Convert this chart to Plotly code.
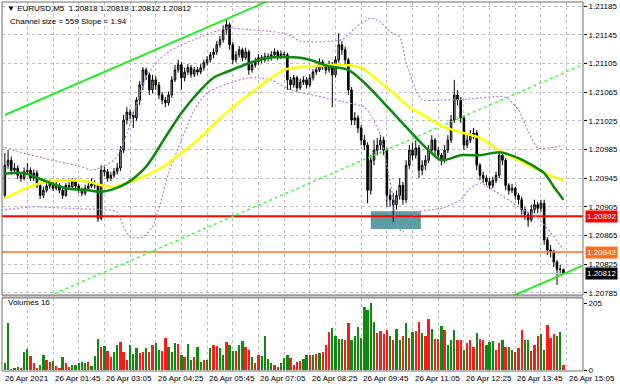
import plotly.graph_objects as go

# ---------------- data (EURUSD M5, 26 Apr 2021, bars 00:30 .. 15:00) ----------------
bar_index = list(range(175))

open_ = [1.20921, 1.20963, 1.20970, 1.20956, 1.20959, 1.20949, 1.20945, 1.20954, 1.20956, 1.20945,
 1.20952, 1.20935, 1.20921, 1.20928, 1.20934, 1.20938, 1.20931, 1.20935, 1.20928, 1.20921,
 1.20935, 1.20933, 1.20940, 1.20934, 1.20928, 1.20924, 1.20931, 1.20934, 1.20937, 1.20935,
 1.20889, 1.20956, 1.20954, 1.20945, 1.20949, 1.20954, 1.20959, 1.20984, 1.21026, 1.21037,
 1.21033, 1.21029, 1.21054, 1.21075, 1.21096, 1.21089, 1.21068, 1.21082, 1.21075, 1.21061,
 1.21054, 1.21050, 1.21061, 1.21082, 1.21096, 1.21103, 1.21085, 1.21093, 1.21099, 1.21090,
 1.21096, 1.21093, 1.21099, 1.21106, 1.21110, 1.21117, 1.21121, 1.21131, 1.21138, 1.21152,
 1.21159, 1.21131, 1.21110, 1.21117, 1.21124, 1.21113, 1.21121, 1.21096, 1.21103, 1.21107,
 1.21113, 1.21110, 1.21115, 1.21113, 1.21117, 1.21121, 1.21114, 1.21118, 1.21117, 1.21082,
 1.21075, 1.21085, 1.21071, 1.21079, 1.21082, 1.21075, 1.21085, 1.21093, 1.21096, 1.21107,
 1.21101, 1.21096, 1.21104, 1.21089, 1.21110, 1.21131, 1.21124, 1.21110, 1.21068, 1.21026,
 1.21029, 1.21015, 1.20998, 1.20991, 1.20928, 1.20970, 1.20984, 1.20991, 1.20998, 1.20984,
 1.20921, 1.20915, 1.20908, 1.20921, 1.20935, 1.20915, 1.20963, 1.20984, 1.20977, 1.20987,
 1.20956, 1.20963, 1.20970, 1.20984, 1.20998, 1.20984, 1.20977, 1.20970, 1.20984, 1.20998,
 1.21026, 1.21061, 1.21054, 1.21029, 1.20991, 1.20998, 1.21005, 1.21008, 1.20963, 1.20949,
 1.20945, 1.20940, 1.20935, 1.20942, 1.20949, 1.20977, 1.20970, 1.20935, 1.20928, 1.20931,
 1.20921, 1.20915, 1.20901, 1.20894, 1.20887, 1.20901, 1.20908, 1.20903, 1.20910, 1.20859,
 1.20845, 1.20842, 1.20828, 1.20818, 1.20818]

high_ = [1.20980, 1.20984, 1.20975, 1.20966, 1.20963, 1.20953, 1.20960, 1.20966, 1.20960, 1.20957,
 1.20956, 1.20938, 1.20933, 1.20938, 1.20943, 1.20941, 1.20940, 1.20938, 1.20931, 1.20938,
 1.20940, 1.20945, 1.20943, 1.20937, 1.20932, 1.20936, 1.20940, 1.20945, 1.20942, 1.20938,
 1.20963, 1.20961, 1.20958, 1.20954, 1.20959, 1.20966, 1.20990, 1.21033, 1.21044, 1.21041,
 1.21038, 1.21058, 1.21080, 1.21100, 1.21099, 1.21092, 1.21089, 1.21087, 1.21079, 1.21065,
 1.21058, 1.21066, 1.21087, 1.21103, 1.21110, 1.21107, 1.21099, 1.21104, 1.21103, 1.21100,
 1.21100, 1.21104, 1.21110, 1.21115, 1.21121, 1.21126, 1.21136, 1.21143, 1.21158, 1.21166,
 1.21162, 1.21135, 1.21122, 1.21129, 1.21127, 1.21127, 1.21124, 1.21108, 1.21113, 1.21118,
 1.21117, 1.21120, 1.21119, 1.21122, 1.21126, 1.21124, 1.21123, 1.21121, 1.21120, 1.21086,
 1.21089, 1.21088, 1.21084, 1.21087, 1.21086, 1.21090, 1.21097, 1.21101, 1.21112, 1.21110,
 1.21104, 1.21109, 1.21107, 1.21115, 1.21147, 1.21136, 1.21128, 1.21113, 1.21072, 1.21037,
 1.21033, 1.21019, 1.21005, 1.20995, 1.20977, 1.20998, 1.21001, 1.21005, 1.21003, 1.20987,
 1.20930, 1.20924, 1.20928, 1.20945, 1.20940, 1.20970, 1.20991, 1.20994, 1.20998, 1.20991,
 1.20970, 1.20977, 1.20991, 1.21005, 1.21001, 1.20988, 1.20980, 1.20991, 1.21005, 1.21033,
 1.21082, 1.21068, 1.21058, 1.21033, 1.21005, 1.21012, 1.21015, 1.21012, 1.20966, 1.20954,
 1.20949, 1.20945, 1.20947, 1.20954, 1.20984, 1.20980, 1.20973, 1.20938, 1.20937, 1.20933,
 1.20924, 1.20919, 1.20905, 1.20898, 1.20908, 1.20915, 1.20912, 1.20915, 1.20915, 1.20863,
 1.20852, 1.20845, 1.20831, 1.20824, 1.20818]

low_ = [1.20917, 1.20958, 1.20950, 1.20951, 1.20944, 1.20940, 1.20942, 1.20950, 1.20941, 1.20941,
 1.20931, 1.20916, 1.20917, 1.20925, 1.20930, 1.20927, 1.20928, 1.20924, 1.20916, 1.20919,
 1.20929, 1.20930, 1.20930, 1.20924, 1.20920, 1.20921, 1.20928, 1.20931, 1.20930, 1.20884,
 1.20886, 1.20948, 1.20940, 1.20941, 1.20945, 1.20950, 1.20955, 1.20980, 1.21020, 1.21027,
 1.21015, 1.21025, 1.21047, 1.21068, 1.21082, 1.21061, 1.21063, 1.21068, 1.21055, 1.21048,
 1.21044, 1.21046, 1.21057, 1.21079, 1.21092, 1.21068, 1.21080, 1.21089, 1.21085, 1.21086,
 1.21088, 1.21090, 1.21095, 1.21102, 1.21106, 1.21112, 1.21117, 1.21127, 1.21134, 1.21145,
 1.21124, 1.21104, 1.21106, 1.21113, 1.21108, 1.21110, 1.21089, 1.21092, 1.21099, 1.21103,
 1.21105, 1.21106, 1.21108, 1.21109, 1.21113, 1.21110, 1.21111, 1.21112, 1.21068, 1.21068,
 1.21071, 1.21066, 1.21068, 1.21075, 1.21070, 1.21072, 1.21081, 1.21089, 1.21093, 1.21096,
 1.21090, 1.21092, 1.21044, 1.21085, 1.21106, 1.21117, 1.21103, 1.21061, 1.21019, 1.21019,
 1.21008, 1.20991, 1.20984, 1.20910, 1.20922, 1.20963, 1.20977, 1.20984, 1.20977, 1.20905,
 1.20905, 1.20884, 1.20901, 1.20915, 1.20908, 1.20910, 1.20958, 1.20970, 1.20972, 1.20945,
 1.20949, 1.20956, 1.20966, 1.20980, 1.20977, 1.20970, 1.20963, 1.20966, 1.20980, 1.20994,
 1.21022, 1.21047, 1.21022, 1.20984, 1.20987, 1.20994, 1.21000, 1.20956, 1.20942, 1.20938,
 1.20935, 1.20930, 1.20931, 1.20938, 1.20945, 1.20963, 1.20928, 1.20922, 1.20924, 1.20915,
 1.20908, 1.20894, 1.20887, 1.20877, 1.20884, 1.20896, 1.20896, 1.20898, 1.20852, 1.20838,
 1.20835, 1.20821, 1.20796, 1.20810, 1.20812]

close_ = [1.20963, 1.20970, 1.20956, 1.20959, 1.20949, 1.20945, 1.20954, 1.20956, 1.20945, 1.20952,
 1.20935, 1.20921, 1.20928, 1.20934, 1.20938, 1.20931, 1.20935, 1.20928, 1.20921, 1.20935,
 1.20933, 1.20940, 1.20934, 1.20928, 1.20924, 1.20931, 1.20934, 1.20937, 1.20935, 1.20889,
 1.20956, 1.20954, 1.20945, 1.20949, 1.20954, 1.20959, 1.20984, 1.21026, 1.21037, 1.21033,
 1.21029, 1.21054, 1.21075, 1.21096, 1.21089, 1.21068, 1.21082, 1.21075, 1.21061, 1.21054,
 1.21050, 1.21061, 1.21082, 1.21096, 1.21103, 1.21085, 1.21093, 1.21099, 1.21090, 1.21096,
 1.21093, 1.21099, 1.21106, 1.21110, 1.21117, 1.21121, 1.21131, 1.21138, 1.21152, 1.21159,
 1.21131, 1.21110, 1.21117, 1.21124, 1.21113, 1.21121, 1.21096, 1.21103, 1.21107, 1.21113,
 1.21110, 1.21115, 1.21113, 1.21117, 1.21121, 1.21114, 1.21118, 1.21117, 1.21082, 1.21075,
 1.21085, 1.21071, 1.21079, 1.21082, 1.21075, 1.21085, 1.21093, 1.21096, 1.21107, 1.21101,
 1.21096, 1.21104, 1.21089, 1.21110, 1.21131, 1.21124, 1.21110, 1.21068, 1.21026, 1.21029,
 1.21015, 1.20998, 1.20991, 1.20928, 1.20970, 1.20984, 1.20991, 1.20998, 1.20984, 1.20921,
 1.20915, 1.20908, 1.20921, 1.20935, 1.20915, 1.20963, 1.20984, 1.20977, 1.20987, 1.20956,
 1.20963, 1.20970, 1.20984, 1.20998, 1.20984, 1.20977, 1.20970, 1.20984, 1.20998, 1.21026,
 1.21061, 1.21054, 1.21029, 1.20991, 1.20998, 1.21005, 1.21008, 1.20963, 1.20949, 1.20945,
 1.20940, 1.20935, 1.20942, 1.20949, 1.20977, 1.20970, 1.20935, 1.20928, 1.20931, 1.20921,
 1.20915, 1.20901, 1.20894, 1.20887, 1.20901, 1.20908, 1.20903, 1.20910, 1.20859, 1.20845,
 1.20842, 1.20828, 1.20818, 1.20818, 1.20812]

volume = [23, 145, 2, 7, 8, 6, 54, 64, 43, 21, 5, 16, 46, 31, 26, 29, 12, 5, 41, 23,
 10, 14, 16, 23, 25, 21, 26, 12, 43, 95, 70, 75, 60, 41, 57, 78, 86, 57, 31, 78,
 50, 67, 52, 57, 67, 54, 78, 83, 62, 60, 98, 70, 57, 83, 81, 47, 41, 81, 31, 41,
 70, 26, 31, 31, 67, 78, 75, 67, 47, 85, 78, 60, 60, 78, 88, 70, 62, 41, 23, 47,
 43, 106, 33, 23, 16, 10, 23, 36, 47, 36, 16, 26, 29, 33, 47, 47, 47, 50, 52, 54,
 78, 117, 129, 106, 95, 95, 93, 145, 93, 104, 132, 98, 195, 184, 205, 147, 114, 119, 112, 124,
 104, 91, 126, 93, 104, 145, 98, 116, 119, 147, 114, 104, 157, 126, 95, 95, 135, 122, 78, 91,
 122, 93, 93, 62, 83, 93, 72, 114, 95, 93, 78, 85, 88, 62, 83, 91, 72, 70, 62, 57,
 67, 124, 93, 91, 60, 78, 106, 111, 62, 140, 100, 111, 104, 116, 16]
volume_up = ("gg" "rggr" "ggrrr" "ggrr" "grr" "grr" "gggg" "grgg" "grgrr" "ggr" "rr" "gggrrgr" "rggrrgggrgrgg" "rgg" "rgg" "rr"
             "ggrggr" "ggrr" "grrggggrrgggrrrrggrgrgrrr" "ggggrr" "ggggggggrrrrgrggrgrgrrgrrgrrgrggg" "rrgrrrgrrgggrrgrggrrrgg"
             "rrrggrrrggrrrr" "gg")

x_tick_idx = [15, 31, 47, 63, 79, 95, 111, 127, 143, 159, 175]
x_tick_text = ["26 Apr 01:45", "26 Apr 03:05", "26 Apr 04:25", "26 Apr 05:45", "26 Apr 07:05",
               "26 Apr 08:25", "26 Apr 09:45", "26 Apr 11:05", "26 Apr 12:25", "26 Apr 13:45",
               "26 Apr 15:05"]
first_label = "26 Apr 2021"
price_ticks = [1.20785, 1.20825, 1.20865, 1.20905, 1.20945, 1.20985, 1.21025, 1.21065,
               1.21105, 1.21145, 1.21185]

ma_green_idx = [0, 6, 12, 19, 26, 30, 34, 38, 44, 50, 55, 61, 65, 69, 73, 77, 82, 87, 92, 95,
                101, 107, 112, 118, 123, 128, 132, 136, 142, 148, 154, 160, 165, 168, 171, 174]
ma_green = [1.20951, 1.20952, 1.20942, 1.20931, 1.20928, 1.20926, 1.20930, 1.20938, 1.20961, 1.21002,
            1.21036, 1.21068, 1.21085, 1.21093, 1.21100, 1.21107, 1.21113, 1.21114, 1.21113, 1.21110,
            1.21101, 1.21096, 1.21078, 1.21050, 1.21026, 1.21002, 1.20984, 1.20970, 1.20977, 1.20977,
            1.20981, 1.20973, 1.20961, 1.20952, 1.20933, 1.20915]

ma_yellow_idx = [0, 5, 11, 19, 26, 30, 34, 38, 44, 50, 57, 61, 65, 71, 77, 82, 87, 92, 95, 105,
                 111, 116, 121, 126, 132, 136, 142, 148, 154, 160, 165, 170, 174]
ma_yellow = [1.20917, 1.20928, 1.20938, 1.20942, 1.20940, 1.20935, 1.20933, 1.20938, 1.20949, 1.20963,
             1.20987, 1.21002, 1.21020, 1.21044, 1.21065, 1.21082, 1.21096, 1.21100, 1.21101, 1.21103,
             1.21099, 1.21082, 1.21064, 1.21044, 1.21029, 1.21018, 1.21009, 1.21001, 1.20984, 1.20970,
             1.20959, 1.20949, 1.20942]

band_up_idx = [0, 5, 12, 19, 23, 27, 31, 34, 36, 40, 44, 48, 52, 61, 69, 76, 82, 88, 92, 105,
               109, 114, 117, 120, 123, 125, 128, 130, 136, 144, 156, 160, 163, 166, 171, 174]
band_up = [1.20988, 1.20981, 1.20973, 1.20966, 1.20962, 1.20956, 1.20962, 1.20970, 1.20984, 1.21033,
           1.21086, 1.21110, 1.21124, 1.21142, 1.21154, 1.21152, 1.21150, 1.21146, 1.21136, 1.21138,
           1.21154, 1.21168, 1.21163, 1.21149, 1.21142, 1.21106, 1.21068, 1.21054, 1.21054, 1.21055,
           1.21058, 1.21040, 1.21011, 1.20987, 1.20988, 1.20991]

band_lo_idx = [0, 9, 19, 30, 35, 37, 39, 43, 46, 49, 51, 55, 59, 63, 69, 76, 83, 89, 99, 107,
               112, 114, 117, 119, 121, 122, 124, 126, 129, 136, 142, 145, 148, 153, 160, 166, 170, 174]
band_lo = [1.20901, 1.20905, 1.20903, 1.20901, 1.20898, 1.20877, 1.20863, 1.20863, 1.20877, 1.20919,
           1.20952, 1.20998, 1.21040, 1.21064, 1.21076, 1.21085, 1.21082, 1.21068, 1.21058, 1.21050,
           1.21044, 1.21033, 1.21005, 1.20963, 1.20915, 1.20880, 1.20870, 1.20887, 1.20898, 1.20903,
           1.20915, 1.20931, 1.20938, 1.20926, 1.20905, 1.20889, 1.20869, 1.20845]

channel_idx = [0, 180]
channel_upper = [1.21033, 1.21382]
channel_mid = [1.20754, 1.21103]
channel_lower = [1.20474, 1.20823]

level_red = 1.20892
level_orange = 1.20842
level_bid = 1.20812
zone_idx = [114, 129.6]
zone_price = [1.20874, 1.20899]

# ---------------- figure ----------------
FONT = "Liberation Sans, Arial, sans-serif"
GRID = "#C0C0C0"
X_RANGE = [-0.89, 180.1]
MAIN_DOM = [0.206, 1.0]
VOL_DOM = [0.0, 0.198]

fig = go.Figure()

line_span = [-2, 182]
fig.add_trace(go.Scatter(x=line_span, y=[level_bid, level_bid], mode="lines",
                         line=dict(color="#C0C0C0", width=1), xaxis="x2", yaxis="y"))
fig.add_trace(go.Scatter(x=line_span, y=[level_orange, level_orange], mode="lines",
                         line=dict(color="#FF6E1E", width=1.5), xaxis="x2", yaxis="y"))
fig.add_trace(go.Scatter(x=line_span, y=[level_red, level_red], mode="lines",
                         line=dict(color="#FF0000", width=2), xaxis="x2", yaxis="y"))

for arr_x, arr_y in [(band_up_idx, band_up), (band_lo_idx, band_lo)]:
    fig.add_trace(go.Scatter(x=arr_x, y=arr_y, mode="lines",
                             line=dict(color="#B47CE6", width=1.2, dash="2px,2px", shape="spline", smoothing=0.6),
                             xaxis="x2", yaxis="y"))

fig.add_trace(go.Scatter(x=channel_idx, y=channel_mid, mode="lines",
                         line=dict(color="#33FF33", width=1.5, dash="3px,3px"), xaxis="x2", yaxis="y"))
fig.add_trace(go.Scatter(x=channel_idx, y=channel_upper, mode="lines",
                         line=dict(color="#22EE22", width=2), xaxis="x2", yaxis="y"))
fig.add_trace(go.Scatter(x=channel_idx, y=channel_lower, mode="lines",
                         line=dict(color="#22EE22", width=2), xaxis="x2", yaxis="y"))

fig.add_trace(go.Scatter(x=ma_yellow_idx, y=ma_yellow, mode="lines",
                         line=dict(color="#FFFF00", width=2.5, shape="spline", smoothing=0.8),
                         xaxis="x2", yaxis="y"))
fig.add_trace(go.Scatter(x=ma_green_idx, y=ma_green, mode="lines",
                         line=dict(color="#0A8A0A", width=2.5, shape="spline", smoothing=0.8),
                         xaxis="x2", yaxis="y"))

fig.add_trace(go.Candlestick(
    x=bar_index, open=open_, high=high_, low=low_, close=close_,
    increasing=dict(line=dict(color="#000000", width=1), fillcolor="#A8A8A8"),
    decreasing=dict(line=dict(color="#000000", width=1), fillcolor="#000000"),
    whiskerwidth=0, xaxis="x2", yaxis="y"))

fig.add_trace(go.Bar(
    x=bar_index, y=volume, width=0.72,
    marker=dict(color=["#0E8A0E" if f == "g" else "#FF1A1A" for f in volume_up], line=dict(width=0)),
    xaxis="x", yaxis="y2"))

axis_x_common = dict(range=X_RANGE, showgrid=True, gridcolor=GRID, griddash="3px,3px", gridwidth=1,
                     tick0=7, dtick=8, showticklabels=False, ticks="", zeroline=False, showline=False,
                     rangeslider=dict(visible=False), fixedrange=True)

fig.update_layout(
    width=620, height=388,
    margin=dict(l=2, r=37, t=2, b=17),
    paper_bgcolor="white", plot_bgcolor="white",
    showlegend=False, hovermode=False,
    font=dict(family=FONT, size=8, color="black"),
    bargap=0,
    xaxis=dict(domain=[0, 1], anchor="y2", **axis_x_common),
    xaxis2=dict(domain=[0, 1], anchor="y", matches="x", **axis_x_common),
    yaxis=dict(domain=MAIN_DOM, anchor="x2", side="right", range=[1.207821, 1.211906],
               tickvals=price_ticks, ticktext=[f"{v:.5f}" for v in price_ticks],
               showgrid=True, gridcolor=GRID, griddash="3px,3px", ticks="outside", ticklen=3,
               tickcolor="black", zeroline=False, showline=False, tickfont=dict(size=8), fixedrange=True),
    yaxis2=dict(domain=VOL_DOM, anchor="x", side="right", range=[-3, 222],
                tickvals=[0, 205], ticktext=["0", "205"], showgrid=False, ticks="outside",
                ticklen=3, tickcolor="black", zeroline=False, showline=False, tickfont=dict(size=8),
                fixedrange=True),
)

shapes = [
    dict(type="rect", xref="x2", yref="y", x0=zone_idx[0], x1=zone_idx[1], y0=zone_price[0], y1=zone_price[1],
         fillcolor="#5B9EA0", line=dict(width=0), layer="between"),
    dict(type="rect", xref="paper", yref="paper", x0=0, x1=1, y0=VOL_DOM[1], y1=MAIN_DOM[0],
         fillcolor="#C8C8C8", line=dict(width=0)),
    dict(type="rect", xref="paper", yref="paper", x0=0, x1=1, y0=MAIN_DOM[0], y1=MAIN_DOM[1],
         line=dict(color="#707070", width=1)),
    dict(type="rect", xref="paper", yref="paper", x0=0, x1=1, y0=VOL_DOM[0], y1=VOL_DOM[1],
         line=dict(color="#707070", width=1)),
]
fig.update_layout(shapes=shapes)

ann = []
ann.append(dict(xref="paper", yref="paper", x=0.005, y=0.9837, xanchor="left", yanchor="middle",
                text="▼ EURUSD,M5\u00a0 1.20818 1.20818 1.20812 1.20812", showarrow=False,
                font=dict(size=8, color="black", family=FONT)))
ann.append(dict(xref="paper", yref="paper", x=0.0103, y=0.9485, xanchor="left", yanchor="middle",
                text="Channel size = 559 Slope = 1.94", showarrow=False,
                font=dict(size=8, color="black", family=FONT)))
ann.append(dict(xref="paper", yref="paper", x=0.0069, y=0.1843, xanchor="left", yanchor="middle",
                text="Volumes 16", showarrow=False, font=dict(size=8, color="black", family=FONT)))
ann.append(dict(xref="x", yref="paper", x=X_RANGE[0] + 0.3, y=-0.019, xanchor="left", yanchor="middle",
                text=first_label, showarrow=False, font=dict(size=8, color="black", family=FONT)))
for xi, txt in zip(x_tick_idx, x_tick_text):
    ann.append(dict(xref="x", yref="paper", x=xi, y=-0.019, xanchor="left", yanchor="middle",
                    text=txt, showarrow=False, font=dict(size=8, color="black", family=FONT)))
for lvl, col in [(level_red, "#FF0000"), (level_orange, "#FF6E1E"), (level_bid, "#000000")]:
    ann.append(dict(xref="paper", yref="y", x=1, y=lvl, xanchor="left", yanchor="middle", xshift=2,
                    text=f"{lvl:.5f}", showarrow=False, bgcolor=col, borderpad=1,
                    font=dict(size=8, color="white", family=FONT)))
fig.update_layout(annotations=ann)

fig.write_html("out.html", config={"displayModeBar": False, "staticPlot": True},
               post_script="document.body.style.margin='0';document.body.style.overflow='hidden';")
